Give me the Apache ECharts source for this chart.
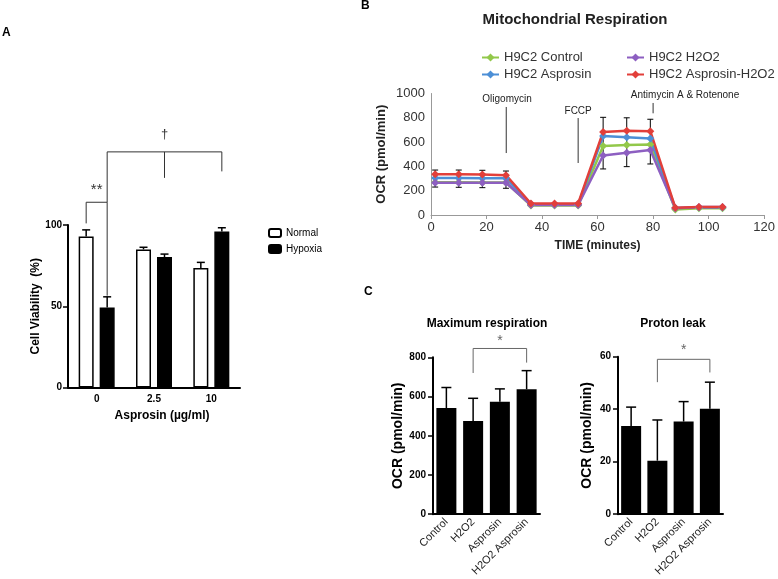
<!DOCTYPE html>
<html>
<head>
<meta charset="utf-8">
<script src="https://cdn.jsdelivr.net/npm/echarts@6/dist/echarts.min.js"></script>
<style>
  html, body { margin: 0; padding: 0; background: #fff; }
  #chart { width: 778px; height: 579px; }
</style>
</head>
<body>
<div id="chart"></div>
<script>
// ---- panel A: cell viability ----
var doses = ['0', '2.5', '10'];
var normalMean = [93, 85, 73.5];
var normalErr = [4, 1.3, 3.5];
var hypoxiaMean = [49.3, 80.3, 96];
var hypoxiaErr = [6.5, 1.8, 2.3];

// ---- panel B: seahorse trace ----
var timeMin = [1.5, 10, 18.5, 27, 36, 44.5, 53, 62, 70.5, 79, 88, 96.5, 105];
var ctrlOcr = [270, 270, 268, 268, 78, 78, 78, 568, 577, 580, 45, 55, 55];
var asprOcr = [305, 305, 302, 302, 88, 88, 88, 650, 640, 630, 58, 62, 62];
var h2o2Ocr = [265, 265, 265, 265, 82, 82, 82, 490, 513, 535, 55, 65, 65];
var asprH2o2Ocr = [335, 335, 333, 328, 95, 95, 95, 683, 693, 690, 60, 65, 65];
var errHigh = [370, 370, 368, 362, '-', '-', '-', 804, 800, 788, '-', '-', '-'];
var errLow = [230, 228, 225, 220, '-', '-', '-', 379, 398, 420, '-', '-', '-'];
var injectNames = ['Oligomycin', 'FCCP', 'Antimycin A & Rotenone'];
var injectTime = [27.1, 53, 80];
var injectTop = [889, 798, 922];
var injectBottom = [510, 428, 837];
var injectLabelTime = [27.4, 53, 91.5];
var injectLabelOcr = [952, 856, 988];

// ---- panel C ----
var groups = ['Control', 'H2O2', 'Asprosin', 'H2O2 Asprosin'];
var maxResp = [541, 475, 574, 637];
var maxRespErr = [105, 116, 65, 95];
var protonLeak = [33.6, 20.4, 35.3, 40.2];
var protonErr = [7.2, 15.5, 7.6, 10.1];

var FONT = '"Liberation Sans", Arial, Helvetica, sans-serif';
var chart = echarts.init(document.getElementById('chart'));

// error bar: data [x, low, high]; offset in px for grouped bars
function errBar(offset, capHalf, lw, bottomCap) {
  return function (params, api) {
    var lo = api.value(1), hi = api.value(2);
    if (isNaN(lo) || isNaN(hi)) return null;
    var p1 = api.coord([api.value(0), lo]);
    var p2 = api.coord([api.value(0), hi]);
    var cx = p1[0] + offset;
    var st = { stroke: '#000', lineWidth: lw };
    var kids = [
      { type: 'line', shape: { x1: cx, y1: p1[1], x2: cx, y2: p2[1] }, style: st },
      { type: 'line', shape: { x1: cx - capHalf, y1: p2[1], x2: cx + capHalf, y2: p2[1] }, style: st }
    ];
    if (bottomCap) kids.push({ type: 'line', shape: { x1: cx - capHalf, y1: p1[1], x2: cx + capHalf, y2: p1[1] }, style: st });
    return { type: 'group', children: kids };
  };
}

// significance bracket: polylines of [category, side, value]
function bracket(xi, yi, lines, label, labelAt, offsets, color, fs) {
  return {
    type: 'custom', xAxisIndex: xi, yAxisIndex: yi, data: [0], silent: true, z: 5,
    renderItem: function (params, api) {
      function pt(p) { var c = api.coord([p[0], p[2]]); return [c[0] + offsets[p[1]], c[1]]; }
      var kids = lines.map(function (l) {
        return { type: 'polyline', shape: { points: l.map(pt) }, style: { stroke: color, lineWidth: 1, fill: null } };
      });
      var lp = pt(labelAt);
      kids.push({ type: 'text', x: lp[0], y: lp[1], style: { text: label, font: fs + 'px ' + FONT, fill: color, align: 'center', verticalAlign: 'middle' } });
      return { type: 'group', children: kids };
    }
  };
}

function plain(v) { return String(v); }

var blackAxis = { lineStyle: { color: '#000', width: 2 } };

var option = {
  animation: false,
  textStyle: { fontFamily: FONT },
  title: [
    { text: 'A', left: 2, top: 27, padding: 0, textStyle: { fontSize: 12, fontWeight: 'bold', color: '#000' } },
    { text: 'B', left: 361, top: 0, padding: 0, textStyle: { fontSize: 12, fontWeight: 'bold', color: '#000' } },
    { text: 'C', left: 364, top: 286, padding: 0, textStyle: { fontSize: 12, fontWeight: 'bold', color: '#000' } },
    { text: 'Mitochondrial Respiration', left: 575, top: 12, padding: 0, textAlign: 'center', textStyle: { fontSize: 15, fontWeight: 'bold', color: '#222' } },
    { text: 'Maximum respiration', left: 487, top: 318, padding: 0, textAlign: 'center', textStyle: { fontSize: 12, fontWeight: 'bold', color: '#000' } },
    { text: 'Proton leak', left: 673, top: 318, padding: 0, textAlign: 'center', textStyle: { fontSize: 12, fontWeight: 'bold', color: '#000' } }
  ],
  legend: [
    { data: ['Normal', 'Hypoxia'], orient: 'vertical', left: 268, top: 228, padding: 0, itemGap: 6, itemWidth: 12, itemHeight: 8,
      textStyle: { fontSize: 10, color: '#000' } },
    { data: ['H9C2 Control'], left: 481, top: 51, padding: 0, itemWidth: 17, itemHeight: 10, textStyle: { fontSize: 13, color: '#333' } },
    { data: ['H9C2 H2O2'], left: 626, top: 51, padding: 0, itemWidth: 17, itemHeight: 10, textStyle: { fontSize: 13, color: '#333' } },
    { data: ['H9C2 Asprosin'], left: 481, top: 68, padding: 0, itemWidth: 17, itemHeight: 10, textStyle: { fontSize: 13, color: '#333' } },
    { data: ['H9C2 Asprosin-H2O2'], left: 626, top: 68, padding: 0, itemWidth: 17, itemHeight: 10, textStyle: { fontSize: 13, color: '#333' } }
  ],
  grid: [
    { left: 68, top: 225, width: 172, height: 162.5 },
    { left: 431, top: 93.5, width: 337, height: 121.5 },
    { left: 433, top: 357.3, width: 107, height: 161 },
    { left: 618, top: 356.7, width: 105, height: 161.6 }
  ],
  xAxis: [
    { gridIndex: 0, type: 'category', data: doses, axisLine: blackAxis,
      axisTick: { alignWithLabel: true, length: 4, lineStyle: { color: '#000', width: 1.5 } },
      axisLabel: { fontSize: 10, fontWeight: 'bold', color: '#000', margin: 7 },
      name: 'Asprosin (µg/ml)', nameLocation: 'middle', nameGap: 22,
      nameTextStyle: { fontSize: 12, fontWeight: 'bold', color: '#000', padding: [0, 0, 0, 16] } },
    { gridIndex: 1, type: 'value', min: 0, max: 120, interval: 20, axisLine: { show: true, lineStyle: { color: '#999' } },
      axisTick: { show: true, length: 4, lineStyle: { color: '#999' } }, splitLine: { show: false },
      axisLabel: { fontSize: 13, color: '#333', margin: 6, formatter: plain },
      name: 'TIME (minutes)', nameLocation: 'middle', nameGap: 25,
      nameTextStyle: { fontSize: 12, fontWeight: 'bold', color: '#222' } },
    { gridIndex: 2, type: 'category', data: groups, axisLine: blackAxis,
      axisTick: { alignWithLabel: true, length: 4, lineStyle: { color: '#000', width: 1.5 } },
      axisLabel: { rotate: 45, fontSize: 11, color: '#222', margin: 6, interval: 0 } },
    { gridIndex: 3, type: 'category', data: groups, axisLine: blackAxis,
      axisTick: { alignWithLabel: true, length: 4, lineStyle: { color: '#000', width: 1.5 } },
      axisLabel: { rotate: 45, fontSize: 11, color: '#222', margin: 6, interval: 0 } }
  ],
  yAxis: [
    { gridIndex: 0, type: 'value', min: 0, max: 100, interval: 50, axisLine: Object.assign({ show: true }, blackAxis),
      axisTick: { show: true, length: 5, lineStyle: { color: '#000', width: 1.5 } }, splitLine: { show: false },
      axisLabel: { fontSize: 10, fontWeight: 'bold', color: '#000', margin: 6 },
      name: 'Cell Viability  (%)', nameLocation: 'middle', nameGap: 22,
      nameTextStyle: { fontSize: 12, fontWeight: 'bold', color: '#000' } },
    { gridIndex: 1, type: 'value', min: 0, max: 1000, interval: 200, axisLine: { show: true, lineStyle: { color: '#999' } },
      axisTick: { show: false }, splitLine: { show: false },
      axisLabel: { fontSize: 13, color: '#333', margin: 6, formatter: plain },
      name: 'OCR (pmol/min)', nameLocation: 'middle', nameGap: 43,
      nameTextStyle: { fontSize: 13, fontWeight: 'bold', color: '#222' } },
    { gridIndex: 2, type: 'value', min: 0, max: 800, interval: 200, axisLine: Object.assign({ show: true }, blackAxis),
      axisTick: { show: true, length: 5, lineStyle: { color: '#000', width: 1.5 } }, splitLine: { show: false },
      axisLabel: { fontSize: 10, fontWeight: 'bold', color: '#000', margin: 7 },
      name: 'OCR (pmol/min)', nameLocation: 'middle', nameGap: 28,
      nameTextStyle: { fontSize: 14, fontWeight: 'bold', color: '#000' } },
    { gridIndex: 3, type: 'value', min: 0, max: 60, interval: 20, axisLine: Object.assign({ show: true }, blackAxis),
      axisTick: { show: true, length: 5, lineStyle: { color: '#000', width: 1.5 } }, splitLine: { show: false },
      axisLabel: { fontSize: 10, fontWeight: 'bold', color: '#000', margin: 7 },
      name: 'OCR (pmol/min)', nameLocation: 'middle', nameGap: 24,
      nameTextStyle: { fontSize: 14, fontWeight: 'bold', color: '#000' } }
  ],
  series: []
};

var s = option.series;

// panel A bars
s.push({ name: 'Normal', type: 'bar', xAxisIndex: 0, yAxisIndex: 0, data: normalMean, barWidth: 15, barGap: '40%',
  itemStyle: { color: '#fff', borderColor: '#000', borderWidth: 1.5 } });
s.push({ name: 'Hypoxia', type: 'bar', xAxisIndex: 0, yAxisIndex: 0, data: hypoxiaMean, barWidth: 15, barGap: '40%',
  itemStyle: { color: '#000', borderColor: '#000', borderWidth: 1.5 } });
s.push({ type: 'custom', xAxisIndex: 0, yAxisIndex: 0, z: 1, silent: true, renderItem: errBar(-10.5, 4, 1.5, false),
  data: doses.map(function (d, i) { return [i, normalMean[i], normalMean[i] + normalErr[i]]; }) });
s.push({ type: 'custom', xAxisIndex: 0, yAxisIndex: 0, z: 1, silent: true, renderItem: errBar(10.5, 4, 1.5, false),
  data: doses.map(function (d, i) { return [i, hypoxiaMean[i], hypoxiaMean[i] + hypoxiaErr[i]]; }) });
s.push(bracket(0, 0, [[[0, 0, 101], [0, 0, 114], [0, 1, 114], [0, 1, 56.5]]], '**', [0, 2, 121.5], [-10.5, 10.5, 0], '#333', 15));
s.push(bracket(0, 0, [[[0, 1, 114], [0, 1, 145], [2, 1, 145], [2, 1, 133]], [[1, 1, 145], [1, 1, 129]]], '†', [1, 1, 156], [-10.5, 10.5, 0], '#333', 13));

// panel B error bars + lines
s.push({ type: 'custom', xAxisIndex: 1, yAxisIndex: 1, z: 1, silent: true, renderItem: errBar(0, 3, 1, true),
  data: timeMin.map(function (t, i) { return [t, errLow[i], errHigh[i]]; }) });
var lineDefs = [
  ['H9C2 Control', ctrlOcr, '#92c84a'],
  ['H9C2 Asprosin', asprOcr, '#4c8fd6'],
  ['H9C2 H2O2', h2o2Ocr, '#8d5fc1'],
  ['H9C2 Asprosin-H2O2', asprH2o2Ocr, '#e23f3a']
];
lineDefs.forEach(function (d) {
  s.push({ name: d[0], type: 'line', xAxisIndex: 1, yAxisIndex: 1, z: 3,
    data: timeMin.map(function (t, i) { return [t, d[1][i]]; }),
    symbol: 'diamond', symbolSize: 8, itemStyle: { color: d[2] }, lineStyle: { color: d[2], width: 2.5 } });
});
// injection markers
s.push({ type: 'custom', xAxisIndex: 1, yAxisIndex: 1, z: 4, silent: true,
  data: injectNames.map(function (n, i) { return [injectTime[i], injectTop[i], injectBottom[i], injectLabelTime[i], injectLabelOcr[i]]; }),
  renderItem: function (params, api) {
    var a = api.coord([api.value(0), api.value(1)]);
    var b = api.coord([api.value(0), api.value(2)]);
    var t = api.coord([api.value(3), api.value(4)]);
    return { type: 'group', children: [
      { type: 'line', shape: { x1: a[0], y1: a[1], x2: b[0], y2: b[1] }, style: { stroke: '#333', lineWidth: 1 } },
      { type: 'text', x: t[0], y: t[1], style: { text: injectNames[params.dataIndex], font: '10px ' + FONT, fill: '#222', align: 'center', verticalAlign: 'middle' } }
    ] };
  } });

// panel C
s.push({ type: 'bar', xAxisIndex: 2, yAxisIndex: 2, data: maxResp, barWidth: 20, itemStyle: { color: '#000' } });
s.push({ type: 'custom', xAxisIndex: 2, yAxisIndex: 2, z: 1, silent: true, renderItem: errBar(0, 5, 1.5, false),
  data: groups.map(function (g, i) { return [i, maxResp[i], maxResp[i] + maxRespErr[i]]; }) });
s.push(bracket(2, 2, [[[1, 0, 720], [1, 0, 845], [3, 0, 845], [3, 0, 773]]], '*', [2, 0, 880], [0], '#666', 14));
s.push({ type: 'bar', xAxisIndex: 3, yAxisIndex: 3, data: protonLeak, barWidth: 20, itemStyle: { color: '#000' } });
s.push({ type: 'custom', xAxisIndex: 3, yAxisIndex: 3, z: 1, silent: true, renderItem: errBar(0, 5, 1.5, false),
  data: groups.map(function (g, i) { return [i, protonLeak[i], protonLeak[i] + protonErr[i]]; }) });
s.push(bracket(3, 3, [[[1, 0, 50.3], [1, 0, 59], [3, 0, 59], [3, 0, 54]]], '*', [2, 0, 62.5], [0], '#666', 14));

chart.setOption(option);
</script>
</body>
</html>
